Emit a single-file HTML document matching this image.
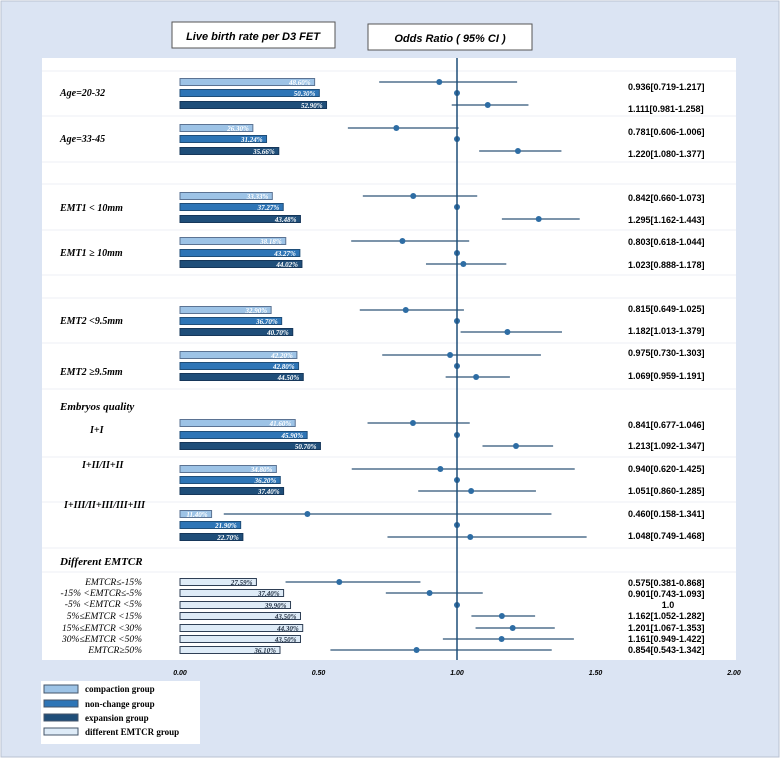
<!DOCTYPE html>
<html><head><meta charset="utf-8"><style>
body{margin:0;width:780px;height:760px;overflow:hidden;background:#fff}
svg{display:block}
</style></head><body>
<svg id="c" width="780" height="760" xmlns="http://www.w3.org/2000/svg" font-family="Liberation Serif, serif">
<rect x="1" y="1" width="778" height="756" fill="#dbe4f3" stroke="#b8c2d2"/>
<rect x="42" y="58" width="694" height="602" fill="#fff"/>
<g><rect x="172" y="22" width="163" height="26" fill="#fff" stroke="#555"/><text x="253" y="40" text-anchor="middle" font-family="Liberation Sans, sans-serif" font-style="italic" font-weight="bold" font-size="11">Live birth rate per D3 FET</text></g>
<g><rect x="368" y="24" width="164" height="26" fill="#fff" stroke="#555"/><text x="450" y="42" text-anchor="middle" font-family="Liberation Sans, sans-serif" font-style="italic" font-weight="bold" font-size="11">Odds Ratio ( 95% CI )</text></g>
<g id="grid"></g><g id="bars"></g><g id="forest"></g><g id="labels"></g><g id="ortext"></g><g id="axis"></g>
<g>
<rect x="41" y="681" width="159" height="63" fill="#fff"/>
<rect x="44" y="685" width="34" height="8" fill="#9dc3e6" stroke="#44546a"/>
<text x="85" y="692" font-size="9" font-weight="bold">compaction group</text>
<rect x="44" y="700" width="34" height="7" fill="#2e75b6" stroke="#44546a"/>
<text x="85" y="707" font-size="9" font-weight="bold">non-change group</text>
<rect x="44" y="714" width="34" height="7" fill="#1f4e79" stroke="#44546a"/>
<text x="85" y="721" font-size="9" font-weight="bold">expansion group</text>
<rect x="44" y="728" width="34" height="7" fill="#deebf7" stroke="#44546a"/>
<text x="85" y="735" font-size="9" font-weight="bold">different EMTCR group</text>
</g>
</svg>
<script>
const rowY=[82,93,105,128,139,151,196,207,219,241,253,264,310,321,332,355,366,377,423,435,446,469,480,491,514,525,537,582,593,605,616,628,639,650];
const barGroup=[0,1,2,0,1,2,0,1,2,0,1,2,0,1,2,0,1,2,0,1,2,0,1,2,0,1,2,3,3,3,3,3,3,3];
const rates=[48.60,50.30,52.90,26.30,31.24,35.66,33.33,37.27,43.48,38.18,43.27,44.02,32.90,36.70,40.70,42.20,42.80,44.50,41.60,45.90,50.70,34.80,36.20,37.40,11.40,21.90,22.70,27.59,37.40,39.90,43.50,44.30,43.50,36.10];
const orVal=[0.936,1,1.111,0.781,1,1.220,0.842,1,1.295,0.803,1,1.023,0.815,1,1.182,0.975,1,1.069,0.841,1,1.213,0.940,1,1.051,0.460,1,1.048,0.575,0.901,1,1.162,1.201,1.161,0.854];
const orLo=[0.719,1,0.981,0.606,1,1.080,0.660,1,1.162,0.618,1,0.888,0.649,1,1.013,0.730,1,0.959,0.677,1,1.092,0.620,1,0.860,0.158,1,0.749,0.381,0.743,1,1.052,1.067,0.949,0.543];
const orHi=[1.217,1,1.258,1.006,1,1.377,1.073,1,1.443,1.044,1,1.178,1.025,1,1.379,1.303,1,1.191,1.046,1,1.347,1.425,1,1.285,1.341,1,1.468,0.868,1.093,1,1.282,1.353,1.422,1.342];
const orLabels=["0.936[0.719-1.217]","1.111[0.981-1.258]","0.781[0.606-1.006]","1.220[1.080-1.377]","0.842[0.660-1.073]","1.295[1.162-1.443]","0.803[0.618-1.044]","1.023[0.888-1.178]","0.815[0.649-1.025]","1.182[1.013-1.379]","0.975[0.730-1.303]","1.069[0.959-1.191]","0.841[0.677-1.046]","1.213[1.092-1.347]","0.940[0.620-1.425]","1.051[0.860-1.285]","0.460[0.158-1.341]","1.048[0.749-1.468]","0.575[0.381-0.868]","0.901[0.743-1.093]","1.0","1.162[1.052-1.282]","1.201[1.067-1.353]","1.161[0.949-1.422]","0.854[0.543-1.342]"];
const orLabelY=[87,109,132,154,198,220,242,265,309,331,353,376,425,446,469,491,514,536,583,594,605,616,628,639,650];
const ticks=[0,0.5,1,1.5,2];
const tickLabels=["0.00","0.50","1.00","1.50","2.00"];
const catLabels=["Age=20-32","Age=33-45","EMT1 < 10mm","EMT1 ≥ 10mm","EMT2 <9.5mm","EMT2 ≥9.5mm","Embryos quality","I+I","I+II/II+II","I+III/II+III/III+III","Different EMTCR","EMTCR≤-15%","-15% <EMTCR≤-5%","-5% <EMTCR <5%","5%≤EMTCR <15%","15%≤EMTCR <30%","30%≤EMTCR <50%","EMTCR≥50%"];
const catY=[96,142,211,256,324,375,410,433,468,508,565,585,596,607,619,631,642,653];
const catX=[60,60,60,60,60,60,60,90,82,64,60,142,142,142,142,142,142,142];
const catBold=[0,0,0,0,0,0,1,0,0,0,1,0,0,0,0,0,0,0];
const x=v=>180+v*277;
const fills=["#9dc3e6","#2e75b6","#1f4e79","#deebf7"];
const strokes=["#5b7393","#1f4e79","#16375a","#2f3f55"];
const NS="http://www.w3.org/2000/svg";
function mk(p,t,a){const e=document.createElementNS(NS,t);for(const k in a)e.setAttribute(k,a[k]);document.getElementById(p).appendChild(e);return e;}
[71,116,162,184,230,275,298,343,389,457,502,548,572].forEach(y=>{const l=mk('grid','line',{x1:42,x2:736,y1:y,y2:y,stroke:'#eceff4','stroke-width':1});

});
rowY.forEach((y,i)=>{
 const g=barGroup[i];
 const r=mk('bars','rect',{x:180,y:y-3.5,width:x(rates[i]/100)-180,height:7,fill:fills[g],stroke:strokes[g],'stroke-width':1});
 
 
 const t=mk('bars','text',{x:x(rates[i]/100)-4,y:y+3,'text-anchor':'end','font-size':7,'font-style':'italic','font-weight':'bold',fill:g==3?'#1f2d40':'#fff'});
 t.textContent=rates[i].toFixed(2)+'%';
 
 
 if(orLo[i]!==orHi[i]){const l=mk('forest','line',{x1:x(orLo[i]),x2:x(orHi[i]),y1:y,y2:y,stroke:'#2f5577','stroke-width':1.2});
 
 }
 const c=mk('forest','circle',{cx:x(orVal[i]),cy:y,r:3,fill:'#2e6da4'});
 
 
});
const ref=mk('forest','line',{x1:x(1),x2:x(1),y1:58,y2:660,stroke:'#1f4e79','stroke-width':1.5});


catLabels.forEach((s,i)=>{const a=i>=11?{x:catX[i],'text-anchor':'end'}:{x:catX[i]};
 a.y=catY[i];a['font-size']=catBold[i]?11:i>=11?9.5:10;a['font-style']='italic';if(i<11)a['font-weight']='bold';
 const t=mk('labels','text',a);t.textContent=s;
 
 });
orLabels.forEach((s,i)=>{const t=mk('ortext','text',{x:s==="1.0"?668:628,y:orLabelY[i]+3,'font-size':9,'font-weight':'bold','text-anchor':s==="1.0"?'middle':'start','font-family':'Liberation Sans Narrow, Liberation Sans, sans-serif'});
 t.textContent=s;
 
 });
ticks.forEach((v,i)=>{const t=mk('axis','text',{x:x(v),y:675,'text-anchor':'middle','font-size':7,'font-style':'italic','font-weight':'bold','font-family':'Liberation Sans, sans-serif'});
 t.textContent=tickLabels[i];
 
 });
</script>
</body></html>
